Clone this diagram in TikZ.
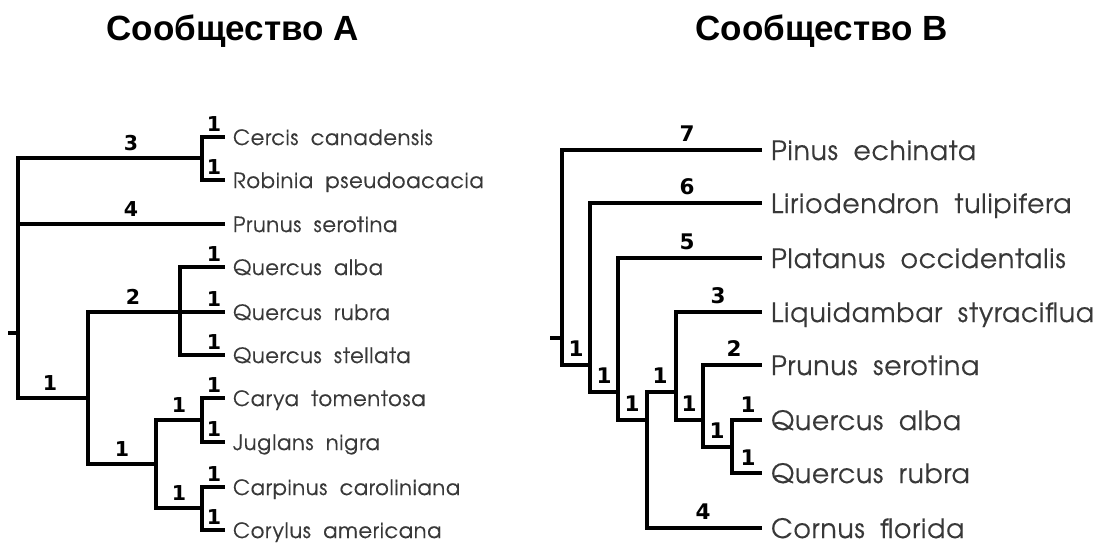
\documentclass[tikz,border=0pt]{standalone}
\usepackage{fontspec}
\setmainfont{Liberation Sans}
\newfontfamily\leaffont{TeX Gyre Adventor}[LetterSpace=3, FakeBold=0.3, WordSpace=1.9]
\newfontfamily\numfont{DejaVu Sans}
\definecolor{leafgray}{HTML}{383838}
\tikzset{
  br/.style={line width=3.1pt, black},
  leafA/.style={anchor=west, inner xsep=8pt, inner ysep=0pt, outer sep=0pt, text height=16pt, text depth=0pt, font=\leaffont\fontsize{21}{21}\selectfont, text=leafgray},
  leafB/.style={anchor=west, inner xsep=9pt, inner ysep=0pt, outer sep=0pt, text height=20pt, text depth=0pt, font=\leaffont\fontsize{26.6}{26.6}\selectfont, text=leafgray},
  labA/.style={anchor=south, inner sep=0pt, yshift=7.5pt, font=\numfont\bfseries\fontsize{20.5}{20.5}\selectfont},
  labAl/.style={labA, yshift=-2.5pt},
  labB/.style={anchor=south, inner sep=0pt, yshift=8pt, font=\numfont\bfseries\fontsize{21.5}{21.5}\selectfont},
  labBl/.style={labB, yshift=-1pt},
  ttl/.style={anchor=base, inner sep=0pt, font=\bfseries\fontsize{35}{35}\selectfont}
}
\begin{document}
\begin{tikzpicture}[x=1pt, y=-1pt]
\useasboundingbox[fill=white] (0,0) rectangle (1102,542);
% titles
\node[ttl] (tA) at (232.5,40) {Сообщество A};
\node[ttl] (tB) at (821.5,40) {Сообщество B};

% ---------- Tree A ----------
\node[leafA] (cercis)   at (225,137) {Cercis canadensis};
\node[leafA] (robinia)  at (225,180) {Robinia pseudoacacia};
\node[leafA] (prunusA)  at (225,224) {Prunus serotina};
\node[leafA] (qalbaA)   at (225,267) {Quercus alba};
\node[leafA] (qrubraA)  at (225,312) {Quercus rubra};
\node[leafA] (qstell)   at (225,355) {Quercus stellata};
\node[leafA] (carya)    at (225,398) {Carya tomentosa};
\node[leafA] (juglans)  at (225,442) {Juglans nigra};
\node[leafA] (carpinus) at (225,487) {Carpinus caroliniana};
\node[leafA] (corylus)  at (225,530) {Corylus americana};

\coordinate (aroot) at (8,333);
\coordinate (a0) at (18,333);
\coordinate (a1) at (202,158);
\coordinate (a2) at (88,398);
\coordinate (a3) at (180,312);
\coordinate (a4) at (156,464);
\coordinate (a5) at (202,420);
\coordinate (a6) at (202,508);

\draw[br] (aroot) -- (a0);
\draw[br] (a0) |- (a1);
\draw[br] (a0) |- (prunusA.west);
\draw[br] (a0) |- (a2);
\draw[br] (a1) |- (cercis.west);
\draw[br] (a1) |- (robinia.west);
\draw[br] (a2) |- (a3);
\draw[br] (a3) -- (qrubraA.west);
\draw[br] (a3) |- (qalbaA.west);
\draw[br] (a3) |- (qstell.west);
\draw[br] (a2) |- (a4);
\draw[br] (a4) |- (a5);
\draw[br] (a4) |- (a6);
\draw[br] (a5) |- (carya.west);
\draw[br] (a5) |- (juglans.west);
\draw[br] (a6) |- (carpinus.west);
\draw[br] (a6) |- (corylus.west);

\node[labA] (la1) at (131,158) {3};
\node[labAl] (la2) at (214,137) {1};
\node[labAl] (la3) at (214,180) {1};
\node[labA] (la4) at (131,224) {4};
\node[labAl] (la5) at (214,267) {1};
\node[labAl] (la6) at (214,312) {1};
\node[labAl] (la7) at (214,355) {1};
\node[labA] (la8) at (133,312) {2};
\node[labA] (la9) at (50,398) {1};
\node[labA] (la10) at (122,464) {1};
\node[labA] (la11) at (179,420) {1};
\node[labA] (la12) at (179,508) {1};
\node[labAl] (la13) at (214,398) {1};
\node[labAl] (la14) at (214,442) {1};
\node[labAl] (la15) at (214,487) {1};
\node[labAl] (la16) at (214,530) {1};

% ---------- Tree B ----------
\node[leafB] (pinus)    at (762,150) {Pinus echinata};
\node[leafB] (lirio)    at (762,203) {Liriodendron tulipifera};
\node[leafB] (platanus) at (762,258) {Platanus occidentalis};
\node[leafB] (liquid)   at (762,312) {Liquidambar styraciflua};
\node[leafB] (prunusB)  at (762,365) {Prunus serotina};
\node[leafB] (qalbaB)   at (762,420) {Quercus alba};
\node[leafB] (qrubraB)  at (762,473) {Quercus rubra};
\node[leafB] (cornus)   at (762,528) {Cornus florida};

\coordinate (broot) at (550,338);
\coordinate (b0) at (562,338);
\coordinate (b1) at (590,365);
\coordinate (b2) at (618,392);
\coordinate (b3) at (647,420);
\coordinate (b4) at (676,392);
\coordinate (b5) at (703,420);
\coordinate (b6) at (732,447);

\draw[br] (broot) -- (b0);
\draw[br] (b0) |- (pinus.west);
\draw[br] (b0) |- (b1);
\draw[br] (b1) |- (lirio.west);
\draw[br] (b1) |- (b2);
\draw[br] (b2) |- (platanus.west);
\draw[br] (b2) |- (b3);
\draw[br] (b3) |- (b4);
\draw[br] (b3) |- (cornus.west);
\draw[br] (b4) |- (liquid.west);
\draw[br] (b4) |- (b5);
\draw[br] (b5) |- (prunusB.west);
\draw[br] (b5) |- (b6);
\draw[br] (b6) |- (qalbaB.west);
\draw[br] (b6) |- (qrubraB.west);

\node[labB] (lb1) at (687,150) {7};
\node[labB] (lb2) at (687,203) {6};
\node[labB] (lb3) at (687,258) {5};
\node[labB] (lb4) at (718,312) {3};
\node[labB] (lb5) at (734,365) {2};
\node[labB] (lb6) at (703,528) {4};
\node[labB] (lb7) at (576,365) {1};
\node[labB] (lb8) at (604,392) {1};
\node[labB] (lb9) at (632,420) {1};
\node[labB] (lb10) at (660,392) {1};
\node[labB] (lb11) at (689,420) {1};
\node[labB] (lb12) at (717,447) {1};
\node[labBl] (lb13) at (748,420) {1};
\node[labBl] (lb14) at (748,473) {1};
\end{tikzpicture}
\end{document}
